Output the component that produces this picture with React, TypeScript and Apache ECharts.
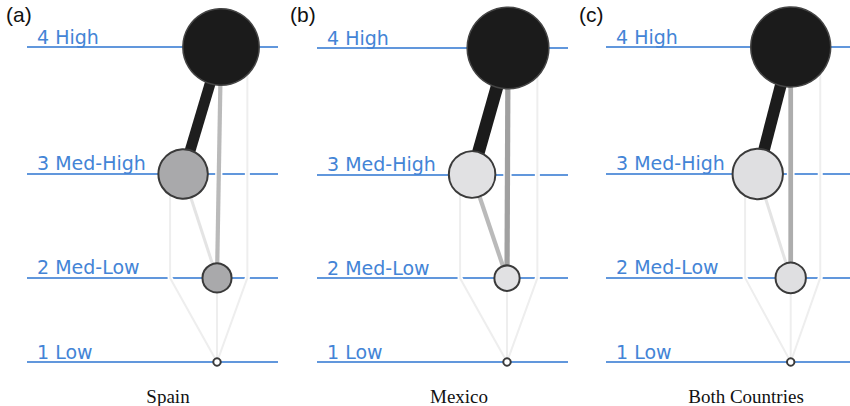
import React, { useEffect, useRef } from "react";
import * as echarts from "echarts";

// ---------- data ----------
const LEVELS = [1, 2, 3, 4];
const LEVEL_LABELS = ["1 Low", "2 Med-Low", "3 Med-High", "4 High"];
const PANEL_TITLES = ["Spain", "Mexico", "Both Countries"];
const PANEL_TAGS = ["(a)", "(b)", "(c)"];

// node share (% of respondents) per level 1..4
const SPAIN_SHARE = [0.6, 9, 26, 62];
const MEXICO_SHARE = [0.6, 6.8, 23, 71];
const BOTH_SHARE = [0.6, 9.8, 27, 68];

// node horizontal position (0..100) per level 1..4
const SPAIN_X = [75.7, 75.7, 62.2, 77.3];
const MEXICO_X = [75.7, 75.7, 61.8, 76.1];
const BOTH_X = [75.7, 75.7, 62.2, 75.7];

// transitions between levels
const EDGE_FROM = [4, 4, 3, 4, 3, 2];
const EDGE_TO = [3, 2, 2, 1, 1, 1];
const EDGE_LANE = ["", "", "", "R", "L", ""];
const SPAIN_W = [0.55, 0.16, 0.09, 0.03, 0.03, 0.03];
const MEXICO_W = [0.66, 0.22, 0.16, 0.03, 0.03, 0.03];
const BOTH_W = [0.6, 0.19, 0.09, 0.03, 0.03, 0.03];

// ---------- layout / style ----------
const ROW_POS = [0, 26.7, 59.7, 100]; // vertical placement of levels 1..4
const LANE_X: Record<string, number> = { L: 57, R: 87.8 };
const GRIDS = [
  { left: 27, top: 47, width: 251, height: 315 },
  { left: 317, top: 48, width: 251, height: 314 },
  { left: 606, top: 47, width: 251, height: 315 },
];
const TAG_X = [6, 290, 579];
const TITLE_X = [168, 459, 746];
const MID_FILL = ["#a9a9ab", "#e1e1e3", "#dfdfe1"];
const BLUE_LINE = "#6197dc";
const BLUE_TEXT = "#4384d6";

const GRAY_STOPS: [number, number][] = [
  [0, 240], [0.05, 236], [0.1, 226], [0.16, 186], [0.22, 160], [0.35, 100], [0.53, 30], [0.8, 24],
];
function grayFor(w: number): string {
  let g = GRAY_STOPS[GRAY_STOPS.length - 1][1];
  for (let i = 0; i < GRAY_STOPS.length - 1; i++) {
    const [w0, g0] = GRAY_STOPS[i];
    const [w1, g1] = GRAY_STOPS[i + 1];
    if (w >= w0 && w <= w1) {
      g = g0 + ((w - w0) / (w1 - w0)) * (g1 - g0);
      break;
    }
  }
  const v = Math.round(g);
  return `rgb(${v},${v},${v})`;
}
function widthFor(w: number): number {
  return 1.5 + 17 * w;
}

export default function App() {
  const ref = useRef<HTMLDivElement>(null);
  useEffect(() => {
    if (!ref.current) return;
    const chart = echarts.init(ref.current, undefined, { renderer: "svg" });
    const shares = [SPAIN_SHARE, MEXICO_SHARE, BOTH_SHARE];
    const xs = [SPAIN_X, MEXICO_X, BOTH_X];
    const weights = [SPAIN_W, MEXICO_W, BOTH_W];

    const series: any[] = [];
    GRIDS.forEach((_, p) => {
      const nodeX = xs[p];
      const pt = (lvl: number) => [nodeX[lvl - 1], ROW_POS[lvl - 1]];
      // level rows
      series.push({
        type: "line",
        xAxisIndex: p,
        yAxisIndex: p,
        data: [[0, 0]],
        symbol: "none",
        lineStyle: { opacity: 0 },
        silent: true,
        z: 1,
        markLine: {
          silent: true,
          z: 1,
          symbol: ["none", "none"],
          animation: false,
          lineStyle: { color: BLUE_LINE, width: 2, type: "solid" },
          label: {
            show: true,
            position: "insideStartTop",
            distance: [10, 1],
            formatter: "{b}",
            color: BLUE_TEXT,
            fontFamily: "DejaVu Sans",
            fontSize: 19,
          },
          emphasis: { disabled: true },
          data: LEVELS.map((l) => [
            { name: LEVEL_LABELS[l - 1], coord: [0, ROW_POS[l - 1]] },
            { coord: [100, ROW_POS[l - 1]] },
          ]),
        },
      });
      // edges
      const edgePaths = EDGE_FROM.map((f, i) => {
        const t = EDGE_TO[i];
        const lane = EDGE_LANE[i];
        if (!lane) return [pt(f), pt(t)];
        const lx = LANE_X[lane];
        return [pt(f), [lx, ROW_POS[f - 1]], [lx, ROW_POS[t]], pt(t)];
      });
      const order = weights[p].map((w, i) => i).sort((a, b) => weights[p][a] - weights[p][b]);
      series.push({
        type: "lines",
        coordinateSystem: "cartesian2d",
        xAxisIndex: p,
        yAxisIndex: p,
        polyline: true,
        silent: true,
        z: 2,
        data: order.map((i) => ({
          coords: edgePaths[i],
          lineStyle: { color: "#ffffff", width: widthFor(weights[p][i]) + 3, opacity: 1, curveness: 0 },
        })),
      });
      series.push({
        type: "lines",
        coordinateSystem: "cartesian2d",
        xAxisIndex: p,
        yAxisIndex: p,
        polyline: true,
        silent: true,
        z: 3,
        data: order.map((i) => ({
          coords: edgePaths[i],
          lineStyle: {
            color: grayFor(weights[p][i]),
            width: widthFor(weights[p][i]),
            opacity: 1,
            curveness: 0,
            join: "round",
          },
        })),
      });
      // nodes
      series.push({
        type: "scatter",
        xAxisIndex: p,
        yAxisIndex: p,
        silent: true,
        z: 4,
        data: LEVELS.map((l) => {
          const fill = l === 4 ? "#1b1b1b" : l === 1 ? "#ffffff" : MID_FILL[p];
          return {
            value: pt(l),
            symbolSize: 9.7 * Math.sqrt(shares[p][l - 1]),
            itemStyle: {
              color: fill,
              borderColor: l === 4 ? "#454545" : "#3a3a3a",
              borderWidth: l === 4 ? 1.5 : 2,
              opacity: 1,
            },
          };
        }),
      });
    });

    const graphics: any[] = [];
    PANEL_TAGS.forEach((t, i) => {
      graphics.push({
        type: "text",
        left: TAG_X[i],
        top: 4,
        style: { text: t, fontFamily: "Liberation Sans", fontSize: 21, fill: "#111" },
      });
      graphics.push({
        type: "text",
        x: TITLE_X[i],
        y: 396,
        style: {
          text: PANEL_TITLES[i],
          fontFamily: "Liberation Serif",
          fontSize: 19,
          fill: "#111",
          textAlign: "center",
          textVerticalAlign: "middle",
        },
      });
    });

    chart.setOption({
      animation: false,
      backgroundColor: "#ffffff",
      grid: GRIDS.map((g) => ({ ...g, containLabel: false })),
      xAxis: GRIDS.map((_, i) => ({ type: "value", gridIndex: i, min: 0, max: 100, show: false })),
      yAxis: GRIDS.map((_, i) => ({ type: "value", gridIndex: i, min: 0, max: 100, show: false })),
      series,
      graphic: graphics,
    });
    return () => chart.dispose();
  }, []);
  return <div ref={ref} style={{ width: 850, height: 406, position: "absolute", left: 0, top: 0 }} />;
}
